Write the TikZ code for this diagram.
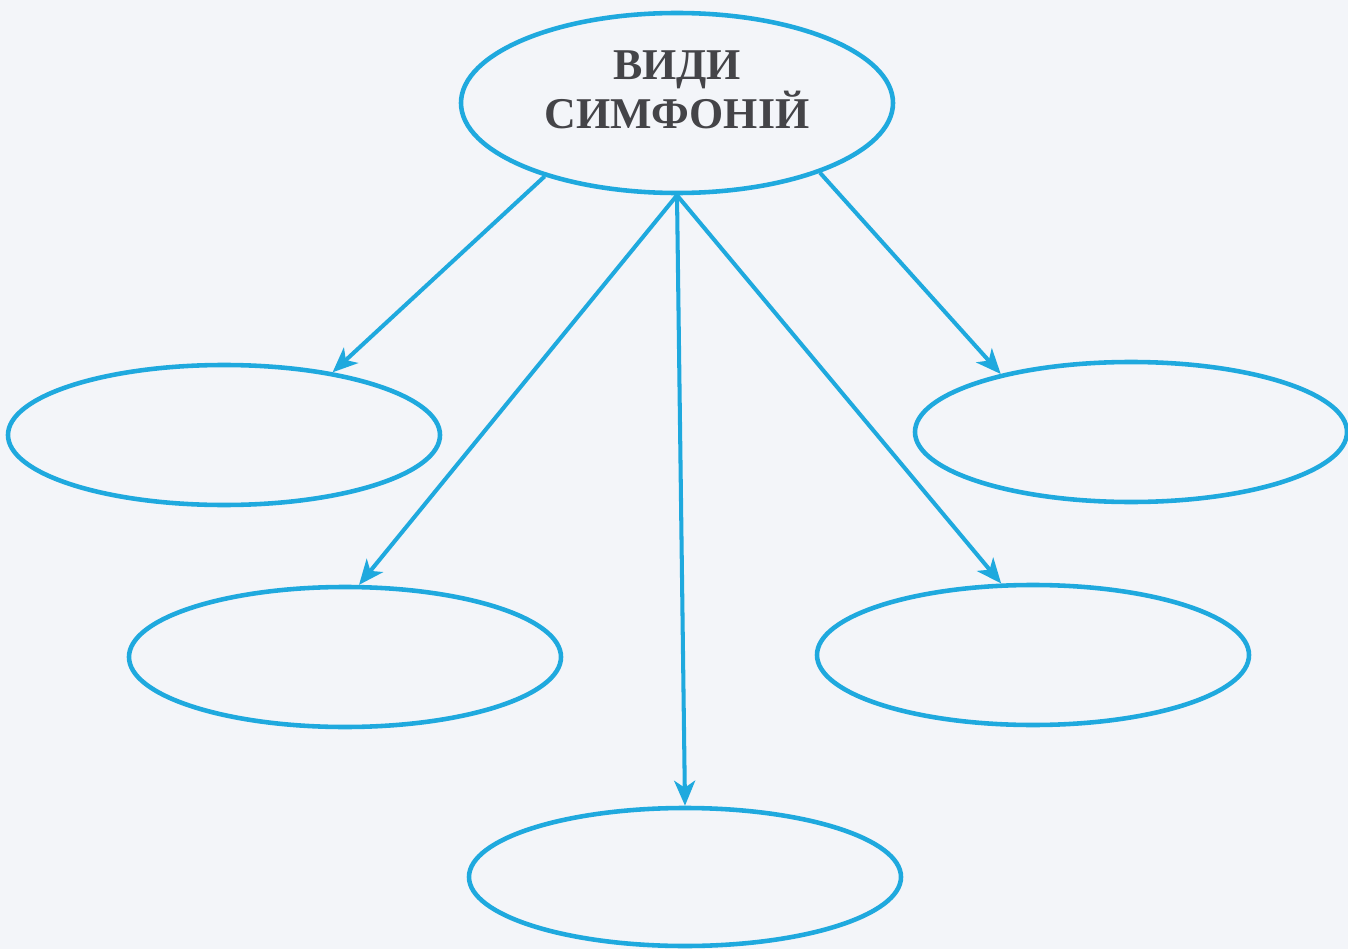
\documentclass[tikz,border=0pt]{standalone}
\usepackage{fontspec}
\setmainfont{Liberation Serif}
\usepackage{tikz}
\usetikzlibrary{shapes.geometric, arrows.meta, positioning}

\definecolor{plava}{HTML}{1FA9DE}
\definecolor{pozadina}{HTML}{F3F5F9}
\definecolor{tekst}{HTML}{444448}

\tikzset{
    elipsa/.style={ellipse, draw=plava, line width=2.6pt, inner sep=0pt,
                   minimum width=8.64cm, minimum height=2.8cm},
    strelica/.style={draw=plava, line width=2.3pt,
                     -{Stealth[length=0.5cm, width=0.42cm, inset=0.14cm]}}
}

\begin{document}
\begin{tikzpicture}
%pozadina
    \fill[pozadina] (0,0) rectangle (26.96,18.98);
    \useasboundingbox (0,0) rectangle (26.96,18.98);

%elipse
    %gornja
    \node[elipsa, minimum height=3.6cm] (vidi) at (13.54,16.92) {};
    \node[text=tekst, align=center, font=\bfseries\fontsize{25}{28}\selectfont]
          (naslov) at ([yshift=0.26cm]vidi.center) {ВИДИ\\СИМФОНІЙ};

    %srednje
    \node[elipsa] (lijeva) at (4.48,10.28) {};
    \node[elipsa] (desna) at (22.62,10.34) {};

    %donje
    \node[elipsa] (donjalijeva) at (6.90,5.84) {};
    \node[elipsa] (donjadesna) at (20.66,5.88) {};
    \node[elipsa, minimum height=2.76cm] (dno) at (13.70,1.44) {};

%strelice
    \draw[strelica] (vidi.209) -- (lijeva.30);
    \draw[strelica] (vidi.south) -- (donjalijeva.79);
    \draw[strelica] (vidi.south) -- (dno.north);
    \draw[strelica] (vidi.south) -- (donjadesna.114);
    \draw[strelica] (vidi.-26) -- (desna.156);
\end{tikzpicture}
\end{document}
